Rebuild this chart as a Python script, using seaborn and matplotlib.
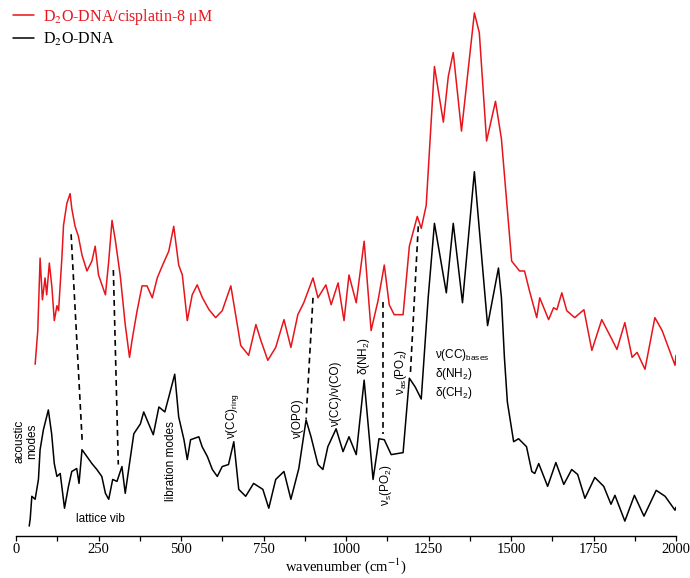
import matplotlib
matplotlib.use("Agg")
import matplotlib.pyplot as plt
import seaborn as sns
import pandas as pd
import numpy as np

# ---- data (wavenumber in cm^-1, intensity in arbitrary units) ----
black_x = [40, 43, 48, 58, 68, 73, 83, 98, 108, 116, 124, 134, 147, 159, 169, 184, 191, 200, 215, 230,
           245, 260, 271, 281, 293, 306, 321, 331, 347, 357, 377, 387, 402, 416, 433, 451, 463, 481,
           493, 509, 519, 529, 554, 564, 580, 595, 610, 625, 644, 660, 675, 696, 720, 748, 766, 787,
           812, 833, 857, 879, 894, 915, 930, 945, 970, 991, 1009, 1031, 1055, 1082, 1100, 1116, 1137,
           1173, 1192, 1210, 1228, 1249, 1268, 1304, 1325, 1353, 1389, 1429, 1462, 1471, 1480, 1489,
           1508, 1523, 1538, 1547, 1563, 1572, 1584, 1611, 1636, 1660, 1684, 1702, 1724, 1754, 1781,
           1803, 1815, 1845, 1874, 1903, 1940, 1967, 1997, 2000]
black_y = [15, 22, 45, 42, 62, 92, 112, 132, 108, 78, 65, 68, 33, 55, 70, 73, 58, 92, 85, 78,
           72, 65, 48, 42, 62, 60, 75, 48, 85, 108, 118, 130, 118, 107, 135, 130, 145, 168,
           125, 102, 82, 102, 105, 95, 85, 72, 65, 75, 77, 100, 52, 45, 58, 52, 33, 62,
           70, 42, 73, 122, 105, 77, 72, 95, 113, 90, 105, 87, 162, 62, 103, 102, 87,
           89, 164, 155, 143, 245, 320, 250, 320, 240, 372, 217, 275, 245, 185, 140,
           100, 103, 98, 95, 70, 68, 78, 55, 79, 57, 72, 67, 43, 64, 55,
           37, 46, 20, 46, 25, 51, 45, 31, 34]

red_x = [58, 66, 73, 80, 88, 93, 101, 109, 116, 124, 129, 139, 144, 154, 164, 169, 179, 189, 200,
         215, 230, 240, 250, 271, 281, 291, 301, 316, 331, 344, 352, 367, 382, 397, 413, 428, 443,
         463, 478, 493, 504, 519, 534, 549, 565, 585, 605, 625, 651, 681, 705, 727, 742,
         763, 787, 812, 833, 854, 872, 900, 915, 939, 955, 976, 994, 1009, 1031, 1055, 1076, 1097,
         1116, 1131, 1146, 1173, 1192, 1216, 1228, 1243, 1268, 1295, 1310, 1325, 1350, 1389, 1404,
         1426, 1453, 1471, 1502, 1526, 1541, 1556, 1578, 1587, 1614, 1629, 1639, 1654, 1669, 1693,
         1721, 1745, 1775, 1806, 1821, 1845, 1867, 1882, 1906, 1936, 1958, 1997, 2000]
red_y = [178, 212, 285, 243, 265, 248, 280, 255, 222, 237, 232, 285, 318, 340, 350, 335, 317, 307, 288,
         272, 282, 297, 268, 248, 282, 323, 303, 267, 218, 185, 203, 232, 257, 257, 245, 265, 277,
         292, 317, 278, 268, 222, 248, 258, 245, 233, 225, 232, 257, 197, 187, 218, 202,
         182, 195, 223, 195, 228, 240, 265, 245, 258, 238, 260, 222, 268, 240, 302, 212, 242,
         278, 238, 228, 228, 297, 327, 315, 338, 478, 422, 468, 492, 413, 532, 512,
         403, 443, 405, 282, 272, 272, 252, 225, 245, 223, 235, 233, 250, 232, 225,
         233, 192, 223, 203, 193, 220, 185, 190, 173, 225, 212, 177, 187]

# dashed correlation links between peaks: (wavenumber, intensity) top -> bottom
link_x_top = [167, 295, 900, 1113, 1219]
link_y_top = [309, 273, 245, 241, 317]
link_x_bot = [201, 310, 879, 1113, 1195]
link_y_bot = [98, 77, 123, 108, 168]

x_ticks = [0, 250, 500, 750, 1000, 1250, 1500, 1750, 2000]
label_red = r"D$_2$O-DNA/cisplatin-8 μM"
label_black = r"D$_2$O-DNA"
x_label = r"wavenumber (cm$^{-1}$)"

sns.set_theme(style="white")
plt.rcParams["font.family"] = ["Liberation Serif", "DejaVu Serif"]
plt.rcParams["mathtext.fontset"] = "custom"
plt.rcParams["mathtext.rm"] = "Liberation Sans"
plt.rcParams["mathtext.it"] = "Liberation Sans:italic"

fig = plt.figure(figsize=(6.9, 5.78), dpi=100)
ax = fig.add_axes([16 / 690, 42 / 578, 660 / 690, 531 / 578])

df_red = pd.DataFrame({"x": red_x, "y": red_y})
df_black = pd.DataFrame({"x": black_x, "y": black_y})
sns.lineplot(data=df_red, x="x", y="y", color="#e8141b", lw=1.1, estimator=None, ax=ax, label=label_red)
sns.lineplot(data=df_black, x="x", y="y", color="black", lw=1.1, estimator=None, ax=ax, label=label_black)

for xt, yt, xb, yb in zip(link_x_top, link_y_top, link_x_bot, link_y_bot):
    ax.plot([xt, xb], [yt, yb], color="black", lw=1.2, ls=(0, (3.5, 2.5)))

ax.set_xlim(0, 2000)
ax.set_ylim(5, 540)
ax.set_xticks(x_ticks)
ax.set_xticks(np.arange(125, 2000, 250), minor=True)
ax.set_yticks([])
for s in ["left", "right", "top"]:
    ax.spines[s].set_visible(False)
ax.spines["bottom"].set_color("black")
ax.spines["bottom"].set_linewidth(1.0)
ax.tick_params(axis="x", which="both", direction="out", length=3.5, width=0.9, color="black",
               bottom=True, labelsize=10.5, pad=1.5, labelcolor="black")
ax.set_xlabel(x_label, fontsize=10.5, labelpad=0, color="black")
ax.xaxis.label.set_math_fontfamily("stix")
ax.set_ylabel("")

leg = ax.legend(loc="upper left", bbox_to_anchor=(13 / 690, 1 - 7 / 578), bbox_transform=fig.transFigure,
                frameon=False, fontsize=11.5, handlelength=1.3, handletextpad=0.6, labelspacing=0.25,
                borderpad=0, borderaxespad=0, labelcolor="linecolor")
for t in leg.get_texts():
    t.set_math_fontfamily("stix")

sans = ["Liberation Sans", "DejaVu Sans"]
fs = 8.5
def note(x, y, s, rot=90, ha="center", va="center", **kw):
    ax.text(x, y, s, rotation=rot, ha=ha, va=va, fontsize=fs, family=sans, color="black",
            linespacing=1.1, **kw)

note(30, 100, "acoustic\nmodes")
note(255, 22, "lattice vib", rot=0)
note(470, 80, "libration modes")
note(655, 103, r"ν(CC)$_{\rm ring}$", va="bottom")
note(855, 103, "ν(OPO)", va="bottom")
note(970, 115, "ν(CC)/ν(CO)", va="bottom")
note(1055, 167, r"δ(NH$_2$)", va="bottom")
note(1122, 56, r"ν$_{\rm s}$(PO$_2$)")
note(1168, 170, r"ν$_{\rm as}$(PO$_2$)")
ax.text(1270, 168, "ν(CC)$_{\\rm bases}$\nδ(NH$_2$)\nδ(CH$_2$)", ha="left", va="center",
        fontsize=fs, family=sans, color="black", linespacing=1.25)

fig.savefig("out.png", dpi=100)
